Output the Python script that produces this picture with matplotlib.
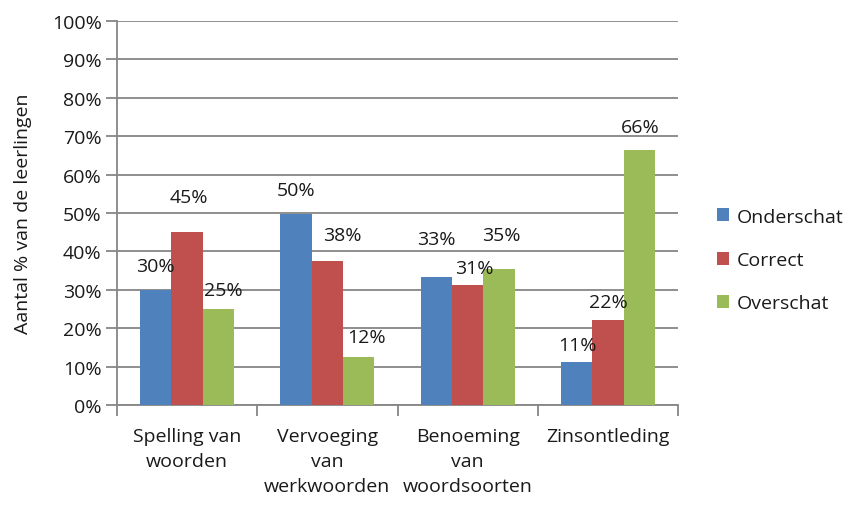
import matplotlib
matplotlib.use("Agg")
import matplotlib.pyplot as plt
import numpy as np

plt.rcParams['font.family'] = ['Open Sans', 'DejaVu Sans']

categories = ["Spelling van\nwoorden", "Vervoeging\nvan\nwerkwoorden",
              "Benoeming\nvan\nwoordsoorten", "Zinsontleding"]
series_names = ["Onderschat", "Correct", "Overschat"]
onderschat = [30.0, 49.8, 33.3, 11.1]
correct = [45.0, 37.6, 31.2, 22.2]
overschat = [24.9, 12.4, 35.4, 66.3]
colors = ["#4F81BD", "#C0504D", "#9BBB59"]
yticks = [0, 10, 20, 30, 40, 50, 60, 70, 80, 90, 100]

# label offsets in pixels (dx, dy) relative to bar top centre
label_offsets = [
    [(0, 24), (0, 24), (0, 38), (1, 17)],
    [(2, 35), (15, 26), (7, 17), (0, 18)],
    [(5, 19), (8, 20), (2, 34), (1, 23)],
]

FS = 14
fig = plt.figure(figsize=(8.48, 5.06), dpi=100)
ax = fig.add_axes([117/848, 1-406/506, (678-117)/848, (406-22)/506])

grid_c = "#868686"
text_c = "#1a1a1a"
x = np.arange(len(categories))
w = 0.224
all_series = [onderschat, correct, overschat]
for i, (vals, name, c) in enumerate(zip(all_series, series_names, colors)):
    bars = ax.bar(x + (i-1)*w, vals, width=w, color=c, label=name, zorder=3)
    for j, (b, v) in enumerate(zip(bars, vals)):
        dx, dy = label_offsets[i][j]
        ax.annotate(f"{int(round(v))}%", (b.get_x()+b.get_width()/2, v),
                    xytext=(dx, dy), textcoords='offset pixels',
                    ha='center', va='center', fontsize=FS, color=text_c, zorder=4)

ax.set_xlim(-0.5, len(categories)-0.5)
ax.set_ylim(0, 100)
ax.set_yticks(yticks)
ax.set_yticklabels([f"{t}%" for t in yticks], fontsize=FS, color=text_c)
ax.yaxis.grid(True, color=grid_c, linewidth=1.3, zorder=0)
ax.set_axisbelow(True)

ax.set_xticks(np.arange(-0.5, len(categories), 1.0))
ax.set_xticklabels([])
ax.set_xticks(x, minor=True)
ax.set_xticklabels(categories, minor=True, fontsize=FS, color=text_c, linespacing=1.5,
                   va='top')
ax.tick_params(axis='x', which='minor', length=0, pad=16)
ax.tick_params(axis='x', which='major', length=8, width=1.3, color=grid_c)
ax.tick_params(axis='y', length=8, width=1.3, color=grid_c, pad=3)

for s in ['top', 'right']:
    ax.spines[s].set_visible(False)
for s in ['left', 'bottom']:
    ax.spines[s].set_color(grid_c)
    ax.spines[s].set_linewidth(1.3)

ax.set_ylabel("Aantal % van de leerlingen", fontsize=FS, color=text_c)
ax.yaxis.set_label_coords((32-117)/561, 0.5)

leg = ax.legend(loc='center left', bbox_to_anchor=(1.038, (406-261)/384), frameon=False,
                fontsize=FS, handlelength=0.65, handleheight=0.65,
                handletextpad=0.4, labelspacing=1.3)
for t in leg.get_texts():
    t.set_color(text_c)

fig.savefig("out.png", dpi=100)
